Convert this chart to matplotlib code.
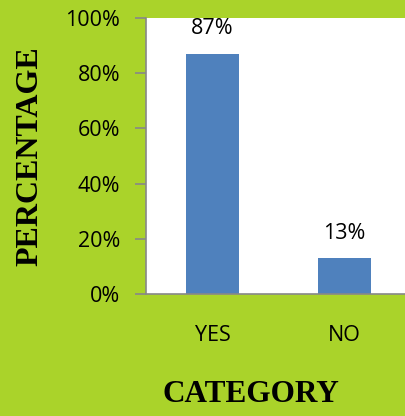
import matplotlib.pyplot as plt

# Data
categories = ['YES', 'NO']
percent = [87, 13]
yticks = [0, 20, 40, 60, 80, 100]

bg = '#AAD32A'
bar_color = '#4F81BD'
axis_color = '#888888'

fig = plt.figure(figsize=(4.06, 4.16), dpi=100, facecolor=bg)
W, H = 406, 416
# plot area in pixels: left 146.5, right 410.5, top 18, bottom 294
ax = fig.add_axes([146.5 / W, (H - 294) / H, 264 / W, 276 / H])
ax.set_facecolor('white')

x = range(len(categories))
bars = ax.bar(x, percent, width=0.4, color=bar_color, zorder=2)

ax.set_xlim(-0.5, 1.5)
ax.set_ylim(0, 100)
ax.set_yticks(yticks)
ax.set_yticklabels([f'{v}%' for v in yticks], fontfamily='Open Sans', fontsize=15.5)
ax.set_xticks(list(x))
ax.set_xticklabels(categories, fontfamily='Open Sans', fontsize=15.5)

ax.tick_params(axis='y', length=8, width=1.2, color=axis_color, pad=11)
ax.tick_params(axis='x', length=0, pad=22)

for s in ['top', 'right']:
    ax.spines[s].set_visible(False)
for s in ['left', 'bottom']:
    ax.spines[s].set_color(axis_color)
    ax.spines[s].set_linewidth(1.2)

for b, v in zip(bars, percent):
    ax.annotate(f'{v}%', (b.get_x() + b.get_width() / 2, v), xytext=(0, 18),
                textcoords='offset points', ha='center', va='center',
                fontfamily='Open Sans', fontsize=15.5)

fig.text(251 / W, 1 - 395 / H, 'CATEGORY', ha='center', va='center',
         fontfamily='Liberation Serif', fontweight='bold', fontsize=22.5)
fig.text(30 / W, 1 - 156 / H, 'PERCENTAGE', ha='center', va='center', rotation=90,
         fontfamily='Liberation Serif', fontweight='bold', fontsize=23)

fig.savefig('out.png', dpi=100, facecolor=bg)
